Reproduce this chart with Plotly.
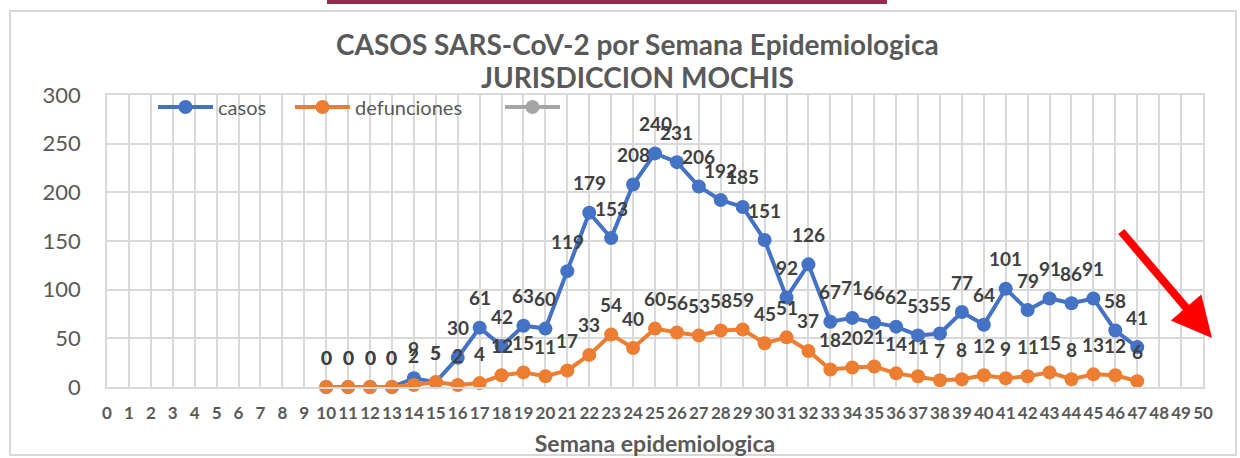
import plotly.graph_objects as go

weeks = list(range(10, 48))
casos = [0, 0, 0, 0, 9, 5, 30, 61, 42, 63, 60, 119, 179, 153, 208, 240, 231, 206, 192, 185,
         151, 92, 126, 67, 71, 66, 62, 53, 55, 77, 64, 101, 79, 91, 86, 91, 58, 41]
defunciones = [0, 0, 0, 0, 2, 5, 2, 4, 12, 15, 11, 17, 33, 54, 40, 60, 56, 53, 58, 59,
               45, 51, 37, 18, 20, 21, 14, 11, 7, 8, 12, 9, 11, 15, 8, 13, 12, 6]
x_ticks = list(range(0, 51))
x_ticklabels = [str(v) for v in x_ticks]
y_ticks = [0, 50, 100, 150, 200, 250, 300]

W, H = 1240, 458
L, R, T, B = 107, 1203, 95, 387  # plot area in pixels


def px(x):
    return (x - L) / (R - L)


def py(y):
    return (B - y) / (B - T)


FONT = "Lato"
GRAY = "#595959"
LBL = "#404040"
BLUE = "#4472c4"
ORANGE = "#ed7d31"
GRID = "#d9d9d9"

fig = go.Figure()
fig.add_trace(go.Scatter(x=weeks, y=casos, name="casos", mode="lines+markers",
                         line=dict(color=BLUE, width=4), marker=dict(size=14, color=BLUE),
                         cliponaxis=False, legend="legend"))
fig.add_trace(go.Scatter(x=weeks, y=defunciones, name="defunciones", mode="lines+markers",
                         line=dict(color=ORANGE, width=4), marker=dict(size=14, color=ORANGE),
                         cliponaxis=False, legend="legend2"))
fig.add_trace(go.Scatter(x=[None], y=[None], name=" ", mode="lines+markers",
                         line=dict(color="#a5a5a5", width=4), marker=dict(size=14, color="#a5a5a5"),
                         legend="legend3"))

annotations = []
for xv, yv in zip(weeks, casos):
    annotations.append(dict(x=xv, y=yv, text=str(yv), showarrow=False, yshift=30,
                            font=dict(family=FONT, size=19, color=LBL, weight="bold")))
for xv, yv in zip(weeks, defunciones):
    annotations.append(dict(x=xv, y=yv, text=str(yv), showarrow=False, yshift=30,
                            font=dict(family=FONT, size=19, color=LBL, weight="bold")))

annotations.append(dict(xref="paper", yref="paper", x=px(637), y=py(44), yanchor="middle",
                        text="CASOS SARS-CoV-2 por Semana Epidemiologica", showarrow=False,
                        font=dict(family=FONT, size=28, color=GRAY, weight="bold")))
annotations.append(dict(xref="paper", yref="paper", x=px(637), y=py(77), yanchor="middle",
                        text="JURISDICCION MOCHIS", showarrow=False,
                        font=dict(family=FONT, size=28, color=GRAY, weight="bold")))
annotations.append(dict(xref="paper", yref="paper", x=px(1212), y=py(338), ax=-92, ay=-108,
                        text="", showarrow=True, arrowhead=2, arrowsize=1.0, arrowwidth=8,
                        arrowcolor="#ff0000", standoff=0))

shapes = [
    dict(type="rect", xref="paper", yref="paper", x0=px(10), x1=px(1236), y0=py(455), y1=py(11),
         line=dict(color=GRID, width=2), fillcolor="rgba(0,0,0,0)", layer="below"),
    dict(type="rect", xref="paper", yref="paper", x0=px(327), x1=px(887), y0=py(4), y1=py(0),
         line=dict(width=0), fillcolor="#962b52"),
]

leg_common = dict(orientation="h", yanchor="middle", xanchor="left", bgcolor="rgba(0,0,0,0)",
                  font=dict(family=FONT, size=20, color=GRAY), itemwidth=55)

fig.update_layout(
    width=W, height=H,
    margin=dict(l=L, r=W - R, t=T, b=H - B, autoexpand=False),
    paper_bgcolor="white", plot_bgcolor="white",
    font=dict(family=FONT, color=GRAY),
    showlegend=True,
    legend=dict(x=px(153), y=py(107), **leg_common),
    legend2=dict(x=px(290), y=py(107), **leg_common),
    legend3=dict(x=px(500), y=py(107), **leg_common),
    annotations=annotations,
    shapes=shapes,
    xaxis=dict(range=[0, 50], tickvals=x_ticks, ticktext=x_ticklabels, tickangle=0,
               automargin=False,
               showgrid=True, gridcolor=GRID, gridwidth=1.5, zeroline=False,
               showline=True, linecolor=GRID, linewidth=1.5, mirror=True, ticks="",
               ticklabelstandoff=10,
               tickfont=dict(family=FONT, size=17, color=GRAY, weight="bold"),
               title=dict(text="Semana epidemiologica", standoff=14,
                          font=dict(family=FONT, size=23, color=GRAY, weight="bold"))),
    yaxis=dict(range=[0, 300], tickvals=y_ticks, showgrid=True, gridcolor=GRID, gridwidth=1.5,
               automargin=False,
               zeroline=False, showline=True, linecolor=GRID, linewidth=1.5, mirror=True,
               ticks="", ticklabelstandoff=20,
               tickfont=dict(family=FONT, size=22, color=GRAY)),
)

fig.write_html("out.html", config={"displayModeBar": False},
               post_script="document.body.style.margin='0';")
